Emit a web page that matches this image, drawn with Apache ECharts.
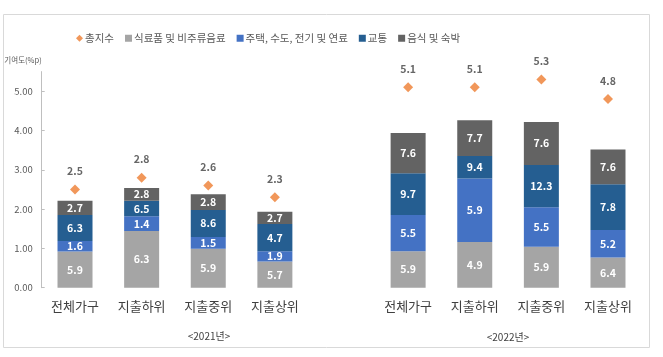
<!DOCTYPE html>
<html>
<head>
<meta charset="utf-8">
<script src="https://cdn.jsdelivr.net/npm/echarts@6/dist/echarts.min.js"></script>
<style>
html,body{margin:0;padding:0;background:#fff;}
#chart{width:663px;height:357px;}
</style>
</head>
<body>
<div id="chart"></div>
<script>
// categories (empty slot separates the two years)
var categories = ['전체가구','지출하위','지출중위','지출상위','','전체가구','지출하위','지출중위','지출상위'];
var yearLabels = ['<2021년>','<2022년>'];
var yTicks = [0,1,2,3,4,5];

// segment heights (contribution, %p)
var food      = [0.92,1.44,0.99,0.67,null,0.93,1.16,1.04,0.77];
var housing   = [0.27,0.38,0.30,0.26,null,0.92,1.62,1.01,0.70];
var transport = [0.66,0.39,0.69,0.69,null,1.06,0.57,1.07,1.16];
var dining    = [0.36,0.33,0.40,0.31,null,1.03,0.91,1.10,0.89];
// total index
var total     = [2.5,2.8,2.6,2.3,null,5.1,5.1,5.3,4.8];

// labels printed on the segments
var foodLbl      = ['5.9','6.3','5.9','5.7','','5.9','4.9','5.9','6.4'];
var housingLbl   = ['1.6','1.4','1.5','1.9','','5.5','5.9','5.5','5.2'];
var transportLbl = ['6.3','6.5','8.6','4.7','','9.7','9.4','12.3','7.8'];
var diningLbl    = ['2.7','2.8','2.8','2.7','','7.6','7.7','7.6','7.6'];

var FONT = '"Noto Sans CJK KR", "Noto Sans", sans-serif';

function segLabel(arr){
  return {
    show:true, position:'inside', color:'#fff', fontWeight:'bold',
    fontSize:10.5, fontFamily:FONT,
    formatter:function(p){ return arr[p.dataIndex]; }
  };
}
function bar(name, data, color, lbl){
  return {
    name:name, type:'bar', stack:'s', data:data, barWidth:35,
    itemStyle:{color:color},
    label:segLabel(lbl),
    emphasis:{disabled:true}
  };
}

var chart = echarts.init(document.getElementById('chart'), null, {renderer:'canvas'});
chart.setOption({
  animation:false,
  textStyle:{fontFamily:FONT},
  legend:{
    top:28, left:71, itemGap:11, itemWidth:7, itemHeight:7,
    textStyle:{fontSize:10.5, color:'#595959', fontFamily:FONT, padding:[0,0,0,-3]},
    data:[
      {name:'총지수', icon:'diamond'},
      {name:'식료품 및 비주류음료', icon:'rect'},
      {name:'주택, 수도, 전기 및 연료', icon:'rect'},
      {name:'교통', icon:'rect'},
      {name:'음식 및 숙박', icon:'rect'}
    ]
  },
  grid:{left:41.7, right:21.7, top:71.6, bottom:69.3, containLabel:false},
  xAxis:{
    type:'category', data:categories,
    axisLine:{show:false}, axisTick:{show:false},
    axisLabel:{fontSize:13, color:'#404040', margin:12, fontFamily:FONT, interval:0}
  },
  yAxis:{
    type:'value', min:0, max:5.5, interval:1,
    name:'기여도(%p)', nameLocation:'end', nameGap:8,
    nameTextStyle:{fontSize:7.5, color:'#595959', align:'right', fontFamily:FONT},
    axisLine:{show:true, lineStyle:{color:'#BFBFBF'}},
    axisTick:{show:true, inside:true, length:3, lineStyle:{color:'#BFBFBF'}},
    splitLine:{show:false},
    axisLabel:{fontSize:9.5, color:'#595959', margin:9, showMaxLabel:false,
      formatter:function(v){ return yTicks.indexOf(v) >= 0 ? v.toFixed(2) : ''; }}
  },
  series:[
    {
      name:'총지수', type:'scatter', data:total, symbol:'diamond', symbolSize:10,
      itemStyle:{color:'#ED7D31'}, z:5,
      label:{show:true, position:'top', distance:8, color:'#404040', fontWeight:'bold',
        fontSize:10.5, fontFamily:FONT,
        formatter:function(p){ return p.value.toFixed(1); }},
      emphasis:{disabled:true}
    },
    bar('식료품 및 비주류음료', food, '#A5A5A5', foodLbl),
    bar('주택, 수도, 전기 및 연료', housing, '#4472C4', housingLbl),
    bar('교통', transport, '#255E91', transportLbl),
    bar('음식 및 숙박', dining, '#636363', diningLbl)
  ],
  graphic:[
    {type:'rect', silent:true, z:-10, shape:{x:3.5, y:14.5, width:646, height:333},
      style:{fill:'none', stroke:'#D9D9D9', lineWidth:1}},
    {type:'text', x:209, y:336, silent:true,
      style:{text:yearLabels[0], fontSize:10, fill:'#404040', fontFamily:FONT,
        textAlign:'center', textVerticalAlign:'middle'}},
    {type:'text', x:508, y:337, silent:true,
      style:{text:yearLabels[1], fontSize:10, fill:'#404040', fontFamily:FONT,
        textAlign:'center', textVerticalAlign:'middle'}}
  ]
});
</script>
</body>
</html>
